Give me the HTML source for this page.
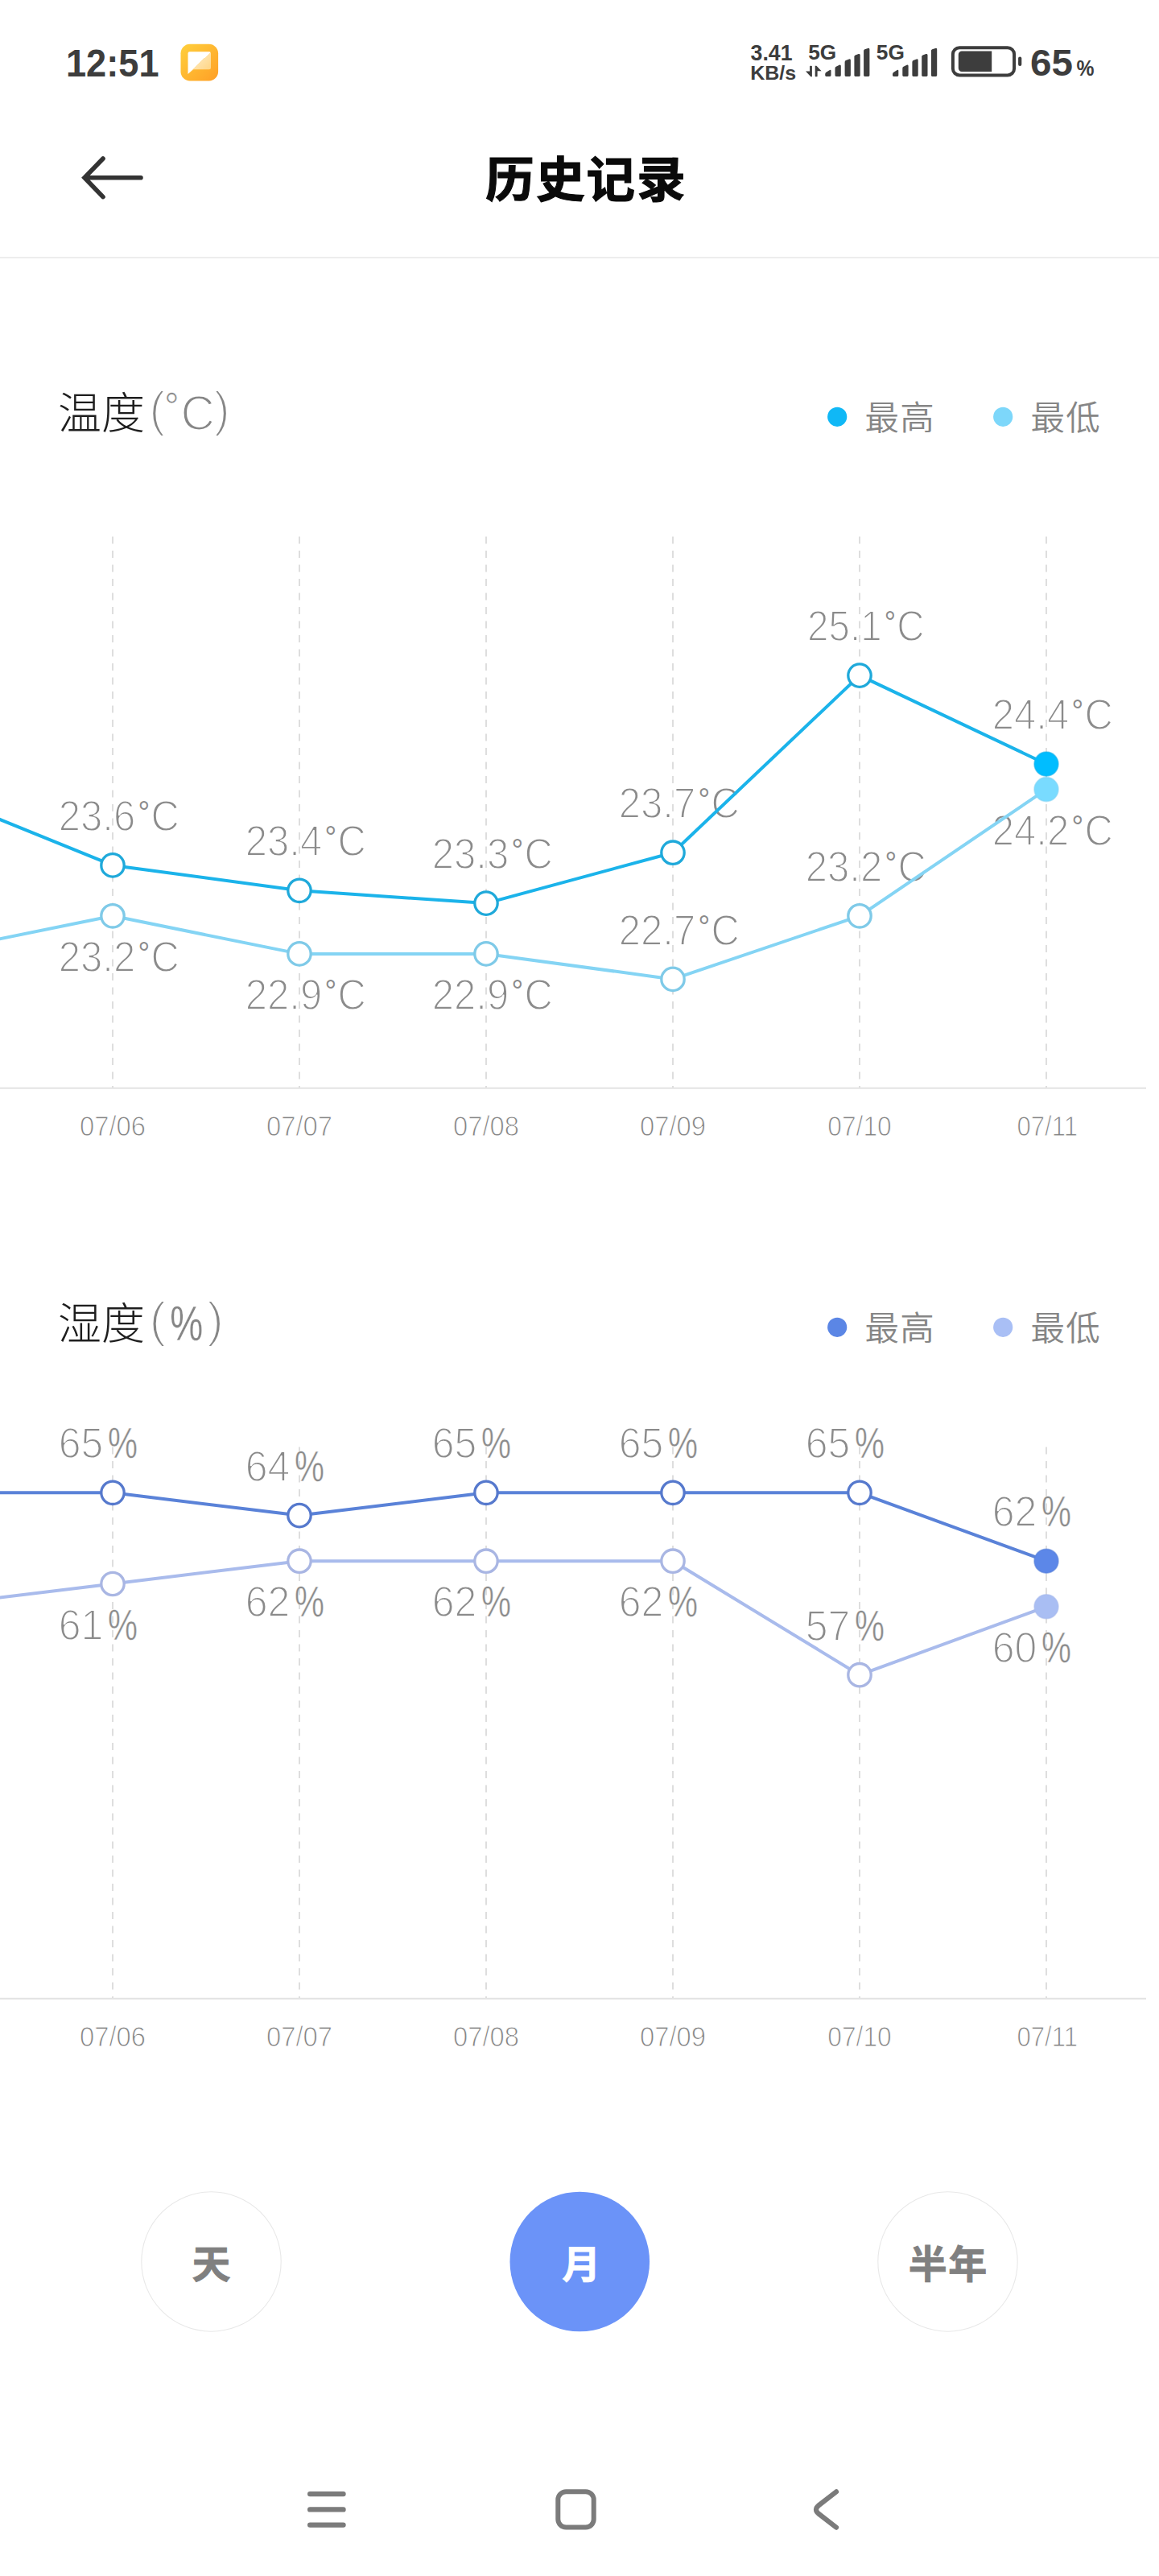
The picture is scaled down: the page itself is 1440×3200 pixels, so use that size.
<!DOCTYPE html>
<html lang="zh-CN">
<head>
<meta charset="utf-8">
<title>历史记录</title>
<style>
html,body{margin:0;padding:0;background:#fff;}
body{width:1440px;height:3200px;overflow:hidden;position:relative;}
svg{position:absolute;left:0;top:0;display:block;}
text{font-family:"Liberation Sans","Noto Sans CJK SC",sans-serif;}
.vl{font-size:53.6px;fill:#8b8b8b;stroke:#fff;stroke-width:1.8px;}
.vl .pc{stroke-width:0.5px;}
.vl .dg{stroke:none;font-size:40px;}
.dl{font-size:35.2px;fill:#828282;stroke:#fff;stroke-width:1.0px;}
.lg{font-size:42.5px;font-weight:350;fill:#868686;letter-spacing:1.1px;}
.ttl{font-size:54px;font-weight:300;fill:#1e1e1e;}
.un{font-size:62px;fill:#868686;stroke:#fff;stroke-width:2.2px;}
.un .dg2{font-size:48px;stroke-width:0.6px;}
.un .pc2{stroke-width:0.3px;}
.btn{font-size:48px;font-weight:700;text-anchor:middle;stroke-width:0.8px;}
.st{fill:#3d3d3d;font-weight:700;}
</style>
</head>
<body>
<svg width="1440" height="3200" viewBox="0 0 1440 3200">
<defs>
<linearGradient id="og" x1="0" y1="0" x2="1" y2="1"><stop offset="0" stop-color="#ffd03c"/><stop offset="1" stop-color="#ff9f26"/></linearGradient>
<linearGradient id="wg" x1="0" y1="0" x2="1" y2="1"><stop offset="0" stop-color="#fff"/><stop offset="0.5" stop-color="#fff"/><stop offset="0.5" stop-color="#ffe2a8"/><stop offset="1" stop-color="#ffd27c"/></linearGradient>
</defs>
<rect width="1440" height="3200" fill="#fff"/>

<g id="statusbar">
<text class="st" x="82" y="94.8" font-size="47.6" textLength="115.5" lengthAdjust="spacingAndGlyphs" fill="#404040">12:51</text>
<rect x="224.5" y="54.8" width="46.6" height="45.6" rx="11.5" fill="url(#og)"/>
<path d="M235.5 64.2 H260 a2 2 0 0 1 2 2 V84.3 a2 2 0 0 1 -2 2 H240.5 L233.5 92 V66.2 a2 2 0 0 1 2 -2 Z" fill="url(#wg)"/>
<text class="st" x="932.6" y="75" font-size="27.3" textLength="52" lengthAdjust="spacingAndGlyphs">3.41</text>
<text class="st" x="932.2" y="98.8" font-size="24.6" textLength="57" lengthAdjust="spacingAndGlyphs">KB/s</text>
<text class="st" x="1004.2" y="73.9" font-size="25.2" textLength="35" lengthAdjust="spacingAndGlyphs">5G</text>
<path d="M1001 88.6 H1006.1 V82.6 Q1006.1 81.7 1007 81.7 H1008 Q1008.9 81.7 1008.9 82.6 V95.3 H1007.3 Z" fill="#3d3d3d"/>
<path d="M1020.6 88.3 H1015.6 V94.4 Q1015.6 95.3 1014.7 95.3 H1013.6 Q1012.7 95.3 1012.7 94.4 V81.7 H1014.4 Z" fill="#3d3d3d"/>
<path d="M1025.2 93.6 V92.2 Q1025.2 90.6 1026.5 89.8 L1030.5 87.2 Q1032.5 85.9 1032.5 88.1 V93.6 Q1032.5 94.9 1031.2 94.9 H1026.5 Q1025.2 94.9 1025.2 93.6 Z" fill="#3d3d3d"/>
<path d="M1037.5 93.6 V84.9 Q1037.5 83.3 1038.8 82.7 L1042.8 80.8 Q1044.8 79.9 1044.8 82.1 V93.6 Q1044.8 94.9 1043.5 94.9 H1038.8 Q1037.5 94.9 1037.5 93.6 Z" fill="#3d3d3d"/>
<path d="M1049.6 93.6 V77.2 Q1049.6 75.6 1050.9 75.1 L1054.9 73.5 Q1056.9 72.7 1056.9 74.9 V93.6 Q1056.9 94.9 1055.6 94.9 H1050.9 Q1049.6 94.9 1049.6 93.6 Z" fill="#3d3d3d"/>
<path d="M1061.4 93.6 V70.6 Q1061.4 69.0 1062.7 68.5 L1066.7 67.1 Q1068.7 66.4 1068.7 68.6 V93.6 Q1068.7 94.9 1067.4 94.9 H1062.7 Q1061.4 94.9 1061.4 93.6 Z" fill="#3d3d3d"/>
<path d="M1073.1 93.6 V63.3 Q1073.1 61.7 1074.4 61.3 L1078.4 60.0 Q1080.4 59.3 1080.4 61.5 V93.6 Q1080.4 94.9 1079.1 94.9 H1074.4 Q1073.1 94.9 1073.1 93.6 Z" fill="#3d3d3d"/>
<text class="st" x="1088.8" y="73.9" font-size="25.2" textLength="35" lengthAdjust="spacingAndGlyphs">5G</text>
<path d="M1109.0 93.6 V92.2 Q1109.0 90.6 1110.3 89.8 L1114.3 87.2 Q1116.3 85.9 1116.3 88.1 V93.6 Q1116.3 94.9 1115.0 94.9 H1110.3 Q1109.0 94.9 1109.0 93.6 Z" fill="#3d3d3d"/>
<path d="M1121.3 93.6 V84.9 Q1121.3 83.3 1122.6 82.7 L1126.6 80.8 Q1128.6 79.9 1128.6 82.1 V93.6 Q1128.6 94.9 1127.3 94.9 H1122.6 Q1121.3 94.9 1121.3 93.6 Z" fill="#3d3d3d"/>
<path d="M1133.4 93.6 V77.2 Q1133.4 75.6 1134.7 75.1 L1138.7 73.5 Q1140.7 72.7 1140.7 74.9 V93.6 Q1140.7 94.9 1139.4 94.9 H1134.7 Q1133.4 94.9 1133.4 93.6 Z" fill="#3d3d3d"/>
<path d="M1145.2 93.6 V70.6 Q1145.2 69.0 1146.5 68.5 L1150.5 67.1 Q1152.5 66.4 1152.5 68.6 V93.6 Q1152.5 94.9 1151.2 94.9 H1146.5 Q1145.2 94.9 1145.2 93.6 Z" fill="#3d3d3d"/>
<path d="M1156.9 93.6 V63.3 Q1156.9 61.7 1158.2 61.3 L1162.2 60.0 Q1164.2 59.3 1164.2 61.5 V93.6 Q1164.2 94.9 1162.9 94.9 H1158.2 Q1156.9 94.9 1156.9 93.6 Z" fill="#3d3d3d"/>
<rect x="1183.9" y="59.2" width="76.2" height="34.2" rx="8.2" fill="none" stroke="#3d3d3d" stroke-width="4"/>
<path d="M1195 63.6 H1232.2 V88.9 H1195 a4.2 4.2 0 0 1 -4.2 -4.2 V67.8 a4.2 4.2 0 0 1 4.2 -4.2 Z" fill="#3d3d3d"/>
<rect x="1265.1" y="70.4" width="4.2" height="11.6" rx="2" fill="#3d3d3d"/>
<text class="st" x="1280" y="94.4" font-size="46.8" textLength="53" lengthAdjust="spacingAndGlyphs">65</text>
<text class="st" x="1337.5" y="94.4" font-size="27.2" textLength="22" lengthAdjust="spacingAndGlyphs">%</text>
</g>
<path d="M128 197 L105 220.8 L128 244.6 M106.5 220.8 H175" fill="none" stroke="#333" stroke-width="5.6" stroke-linecap="round" stroke-linejoin="miter"/>
<text x="728.6" y="245.3" font-size="60.5" font-weight="700" fill="#0a0a0a" stroke="#0a0a0a" stroke-width="1.2" letter-spacing="2.2" text-anchor="middle">历史记录</text>
<rect x="0" y="319" width="1440" height="2" fill="#ededed"/>
<text class="ttl" x="72" y="532.6">温度</text>
<text class="un" x="185.6" y="534.4" textLength="100" lengthAdjust="spacingAndGlyphs"><tspan dy="-5.5">(</tspan><tspan class="dg2" dx="-1" dy="-8">°</tspan><tspan dx="2" dy="13.5">C</tspan><tspan dx="-1" dy="-5.5">)</tspan></text>
<circle cx="1040.2" cy="517.8" r="12.1" fill="#10b8f6"/>
<text class="lg" x="1074.6" y="534">最高</text>
<circle cx="1246.2" cy="517.8" r="12.1" fill="#7dd7fa"/>
<text class="lg" x="1280.6" y="534">最低</text>
<line x1="140" y1="666.5" x2="140" y2="1351.7" stroke="#d6d6d6" stroke-width="1.6" stroke-dasharray="9 8.5"/>
<line x1="372" y1="666.5" x2="372" y2="1351.7" stroke="#d6d6d6" stroke-width="1.6" stroke-dasharray="9 8.5"/>
<line x1="604" y1="666.5" x2="604" y2="1351.7" stroke="#d6d6d6" stroke-width="1.6" stroke-dasharray="9 8.5"/>
<line x1="836" y1="666.5" x2="836" y2="1351.7" stroke="#d6d6d6" stroke-width="1.6" stroke-dasharray="9 8.5"/>
<line x1="1068" y1="666.5" x2="1068" y2="1351.7" stroke="#d6d6d6" stroke-width="1.6" stroke-dasharray="9 8.5"/>
<line x1="1300" y1="666.5" x2="1300" y2="1351.7" stroke="#d6d6d6" stroke-width="1.6" stroke-dasharray="9 8.5"/>
<line x1="0" y1="1351.7" x2="1424" y2="1351.7" stroke="#e3e3e3" stroke-width="2"/>
<text class="vl" x="72.8" y="1032.0" textLength="150.0" lengthAdjust="spacingAndGlyphs">23.6<tspan class="dg" dx="3.5" dy="-9">°</tspan><tspan dx="1.5" dy="9">C</tspan></text>
<text class="vl" x="72.8" y="1207.0" textLength="150.0" lengthAdjust="spacingAndGlyphs">23.2<tspan class="dg" dx="3.5" dy="-9">°</tspan><tspan dx="1.5" dy="9">C</tspan></text>
<text class="vl" x="304.8" y="1063.4" textLength="150.0" lengthAdjust="spacingAndGlyphs">23.4<tspan class="dg" dx="3.5" dy="-9">°</tspan><tspan dx="1.5" dy="9">C</tspan></text>
<text class="vl" x="304.8" y="1254.1" textLength="150.0" lengthAdjust="spacingAndGlyphs">22.9<tspan class="dg" dx="3.5" dy="-9">°</tspan><tspan dx="1.5" dy="9">C</tspan></text>
<text class="vl" x="536.8" y="1079.2" textLength="150.0" lengthAdjust="spacingAndGlyphs">23.3<tspan class="dg" dx="3.5" dy="-9">°</tspan><tspan dx="1.5" dy="9">C</tspan></text>
<text class="vl" x="536.8" y="1254.1" textLength="150.0" lengthAdjust="spacingAndGlyphs">22.9<tspan class="dg" dx="3.5" dy="-9">°</tspan><tspan dx="1.5" dy="9">C</tspan></text>
<text class="vl" x="768.8" y="1016.3" textLength="150.0" lengthAdjust="spacingAndGlyphs">23.7<tspan class="dg" dx="3.5" dy="-9">°</tspan><tspan dx="1.5" dy="9">C</tspan></text>
<text class="vl" x="768.8" y="1173.5" textLength="150.0" lengthAdjust="spacingAndGlyphs">22.7<tspan class="dg" dx="3.5" dy="-9">°</tspan><tspan dx="1.5" dy="9">C</tspan></text>
<text class="vl" x="1003.1" y="796.2" textLength="145.4" lengthAdjust="spacingAndGlyphs">25.1<tspan class="dg" dx="3.5" dy="-9">°</tspan><tspan dx="1.5" dy="9">C</tspan></text>
<text class="vl" x="1000.8" y="1094.9" textLength="150.0" lengthAdjust="spacingAndGlyphs">23.2<tspan class="dg" dx="3.5" dy="-9">°</tspan><tspan dx="1.5" dy="9">C</tspan></text>
<text class="vl" x="1232.8" y="906.2" textLength="150.0" lengthAdjust="spacingAndGlyphs">24.4<tspan class="dg" dx="3.5" dy="-9">°</tspan><tspan dx="1.5" dy="9">C</tspan></text>
<text class="vl" x="1232.8" y="1049.8" textLength="150.0" lengthAdjust="spacingAndGlyphs">24.2<tspan class="dg" dx="3.5" dy="-9">°</tspan><tspan dx="1.5" dy="9">C</tspan></text>
<polyline points="-92,1184.9 140,1137.8 372,1184.9 604,1184.9 836,1216.4 1068,1137.8 1300,980.6" fill="none" stroke="#84d4f4" stroke-width="4" stroke-linejoin="round"/>
<polyline points="-92,980.6 140,1074.9 372,1106.3 604,1122.1 836,1059.2 1068,839.1 1300,949.1" fill="none" stroke="#1bb3ea" stroke-width="4" stroke-linejoin="round"/>
<circle cx="140" cy="1137.8" r="14.2" fill="#fff" stroke="#7fcae8" stroke-width="3.3"/>
<circle cx="372" cy="1184.9" r="14.2" fill="#fff" stroke="#7fcae8" stroke-width="3.3"/>
<circle cx="604" cy="1184.9" r="14.2" fill="#fff" stroke="#7fcae8" stroke-width="3.3"/>
<circle cx="836" cy="1216.4" r="14.2" fill="#fff" stroke="#7fcae8" stroke-width="3.3"/>
<circle cx="1068" cy="1137.8" r="14.2" fill="#fff" stroke="#7fcae8" stroke-width="3.3"/>
<circle cx="1300" cy="980.6" r="15" fill="#79dbff" stroke="#84d4f4" stroke-opacity="0.55" stroke-width="1.6"/>
<circle cx="140" cy="1074.9" r="14.2" fill="#fff" stroke="#1fa9da" stroke-width="3.3"/>
<circle cx="372" cy="1106.3" r="14.2" fill="#fff" stroke="#1fa9da" stroke-width="3.3"/>
<circle cx="604" cy="1122.1" r="14.2" fill="#fff" stroke="#1fa9da" stroke-width="3.3"/>
<circle cx="836" cy="1059.2" r="14.2" fill="#fff" stroke="#1fa9da" stroke-width="3.3"/>
<circle cx="1068" cy="839.1" r="14.2" fill="#fff" stroke="#1fa9da" stroke-width="3.3"/>
<circle cx="1300" cy="949.1" r="15" fill="#00bdff" stroke="#1bb3ea" stroke-opacity="0.55" stroke-width="1.6"/>
<text class="dl" x="140" y="1410.9" text-anchor="middle" textLength="82" lengthAdjust="spacingAndGlyphs">07/06</text>
<text class="dl" x="372" y="1410.9" text-anchor="middle" textLength="82" lengthAdjust="spacingAndGlyphs">07/07</text>
<text class="dl" x="604" y="1410.9" text-anchor="middle" textLength="82" lengthAdjust="spacingAndGlyphs">07/08</text>
<text class="dl" x="836" y="1410.9" text-anchor="middle" textLength="82" lengthAdjust="spacingAndGlyphs">07/09</text>
<text class="dl" x="1068" y="1410.9" text-anchor="middle" textLength="79.5" lengthAdjust="spacingAndGlyphs">07/10</text>
<text class="dl" x="1301.2" y="1410.9" text-anchor="middle" textLength="75.5" lengthAdjust="spacingAndGlyphs">07/11</text>
<text class="ttl" x="72" y="1663.6">湿度</text>
<text class="un" x="185.6" y="1665.4"><tspan dy="-5.5">(</tspan><tspan class="pc2" dx="5" dy="5.5" textLength="41" lengthAdjust="spacingAndGlyphs">%</tspan><tspan dx="5" dy="-5.5">)</tspan></text>
<circle cx="1040.2" cy="1648.8" r="12.1" fill="#5b86e5"/>
<text class="lg" x="1074.6" y="1665">最高</text>
<circle cx="1246.2" cy="1648.8" r="12.1" fill="#a9bff5"/>
<text class="lg" x="1280.6" y="1665">最低</text>
<line x1="140" y1="1797.5" x2="140" y2="2482.7" stroke="#d6d6d6" stroke-width="1.6" stroke-dasharray="9 8.5"/>
<line x1="372" y1="1797.5" x2="372" y2="2482.7" stroke="#d6d6d6" stroke-width="1.6" stroke-dasharray="9 8.5"/>
<line x1="604" y1="1797.5" x2="604" y2="2482.7" stroke="#d6d6d6" stroke-width="1.6" stroke-dasharray="9 8.5"/>
<line x1="836" y1="1797.5" x2="836" y2="2482.7" stroke="#d6d6d6" stroke-width="1.6" stroke-dasharray="9 8.5"/>
<line x1="1068" y1="1797.5" x2="1068" y2="2482.7" stroke="#d6d6d6" stroke-width="1.6" stroke-dasharray="9 8.5"/>
<line x1="1300" y1="1797.5" x2="1300" y2="2482.7" stroke="#d6d6d6" stroke-width="1.6" stroke-dasharray="9 8.5"/>
<line x1="0" y1="2482.7" x2="1424" y2="2482.7" stroke="#e3e3e3" stroke-width="2"/>
<text class="vl" x="72.8" y="1811.4"><tspan textLength="55.6" lengthAdjust="spacingAndGlyphs">65</tspan><tspan class="pc" dx="5.5" textLength="37" lengthAdjust="spacingAndGlyphs">%</tspan></text>
<text class="vl" x="72.8" y="2036.7"><tspan textLength="55.6" lengthAdjust="spacingAndGlyphs">61</tspan><tspan class="pc" dx="5.5" textLength="37" lengthAdjust="spacingAndGlyphs">%</tspan></text>
<text class="vl" x="304.8" y="1839.7"><tspan textLength="55.6" lengthAdjust="spacingAndGlyphs">64</tspan><tspan class="pc" dx="5.5" textLength="37" lengthAdjust="spacingAndGlyphs">%</tspan></text>
<text class="vl" x="304.8" y="2008.4"><tspan textLength="55.6" lengthAdjust="spacingAndGlyphs">62</tspan><tspan class="pc" dx="5.5" textLength="37" lengthAdjust="spacingAndGlyphs">%</tspan></text>
<text class="vl" x="536.8" y="1811.4"><tspan textLength="55.6" lengthAdjust="spacingAndGlyphs">65</tspan><tspan class="pc" dx="5.5" textLength="37" lengthAdjust="spacingAndGlyphs">%</tspan></text>
<text class="vl" x="536.8" y="2008.4"><tspan textLength="55.6" lengthAdjust="spacingAndGlyphs">62</tspan><tspan class="pc" dx="5.5" textLength="37" lengthAdjust="spacingAndGlyphs">%</tspan></text>
<text class="vl" x="768.8" y="1811.4"><tspan textLength="55.6" lengthAdjust="spacingAndGlyphs">65</tspan><tspan class="pc" dx="5.5" textLength="37" lengthAdjust="spacingAndGlyphs">%</tspan></text>
<text class="vl" x="768.8" y="2008.4"><tspan textLength="55.6" lengthAdjust="spacingAndGlyphs">62</tspan><tspan class="pc" dx="5.5" textLength="37" lengthAdjust="spacingAndGlyphs">%</tspan></text>
<text class="vl" x="1000.8" y="1811.4"><tspan textLength="55.6" lengthAdjust="spacingAndGlyphs">65</tspan><tspan class="pc" dx="5.5" textLength="37" lengthAdjust="spacingAndGlyphs">%</tspan></text>
<text class="vl" x="1000.8" y="2037.8"><tspan textLength="55.6" lengthAdjust="spacingAndGlyphs">57</tspan><tspan class="pc" dx="5.5" textLength="37" lengthAdjust="spacingAndGlyphs">%</tspan></text>
<text class="vl" x="1232.8" y="1896.3"><tspan textLength="55.6" lengthAdjust="spacingAndGlyphs">62</tspan><tspan class="pc" dx="5.5" textLength="37" lengthAdjust="spacingAndGlyphs">%</tspan></text>
<text class="vl" x="1232.8" y="2065.0"><tspan textLength="55.6" lengthAdjust="spacingAndGlyphs">60</tspan><tspan class="pc" dx="5.5" textLength="37" lengthAdjust="spacingAndGlyphs">%</tspan></text>
<polyline points="-92,1995.8 140,1967.5 372,1939.2 604,1939.2 836,1939.2 1068,2080.7 1300,1995.8" fill="none" stroke="#a9bbec" stroke-width="4" stroke-linejoin="round"/>
<polyline points="-92,1854.3 140,1854.3 372,1882.6 604,1854.3 836,1854.3 1068,1854.3 1300,1939.2" fill="none" stroke="#5a82d8" stroke-width="4" stroke-linejoin="round"/>
<circle cx="140" cy="1967.5" r="14.2" fill="#fff" stroke="#a9b6e3" stroke-width="3.3"/>
<circle cx="372" cy="1939.2" r="14.2" fill="#fff" stroke="#a9b6e3" stroke-width="3.3"/>
<circle cx="604" cy="1939.2" r="14.2" fill="#fff" stroke="#a9b6e3" stroke-width="3.3"/>
<circle cx="836" cy="1939.2" r="14.2" fill="#fff" stroke="#a9b6e3" stroke-width="3.3"/>
<circle cx="1068" cy="2080.7" r="14.2" fill="#fff" stroke="#a9b6e3" stroke-width="3.3"/>
<circle cx="1300" cy="1995.8" r="15" fill="#a9bef3" stroke="#a9bbec" stroke-opacity="0.55" stroke-width="1.6"/>
<circle cx="140" cy="1854.3" r="14.2" fill="#fff" stroke="#5679cd" stroke-width="3.3"/>
<circle cx="372" cy="1882.6" r="14.2" fill="#fff" stroke="#5679cd" stroke-width="3.3"/>
<circle cx="604" cy="1854.3" r="14.2" fill="#fff" stroke="#5679cd" stroke-width="3.3"/>
<circle cx="836" cy="1854.3" r="14.2" fill="#fff" stroke="#5679cd" stroke-width="3.3"/>
<circle cx="1068" cy="1854.3" r="14.2" fill="#fff" stroke="#5679cd" stroke-width="3.3"/>
<circle cx="1300" cy="1939.2" r="15" fill="#5c87e8" stroke="#5a82d8" stroke-opacity="0.55" stroke-width="1.6"/>
<text class="dl" x="140" y="2541.9" text-anchor="middle" textLength="82" lengthAdjust="spacingAndGlyphs">07/06</text>
<text class="dl" x="372" y="2541.9" text-anchor="middle" textLength="82" lengthAdjust="spacingAndGlyphs">07/07</text>
<text class="dl" x="604" y="2541.9" text-anchor="middle" textLength="82" lengthAdjust="spacingAndGlyphs">07/08</text>
<text class="dl" x="836" y="2541.9" text-anchor="middle" textLength="82" lengthAdjust="spacingAndGlyphs">07/09</text>
<text class="dl" x="1068" y="2541.9" text-anchor="middle" textLength="79.5" lengthAdjust="spacingAndGlyphs">07/10</text>
<text class="dl" x="1301.2" y="2541.9" text-anchor="middle" textLength="75.5" lengthAdjust="spacingAndGlyphs">07/11</text>
<circle cx="262.5" cy="2809.5" r="86.7" fill="#fff" stroke="#e8e8e8" stroke-width="1.1"/>
<text class="btn" x="262.5" y="2830" fill="#808080" stroke="#808080">天</text>
<circle cx="720.3" cy="2809.5" r="86.8" fill="#6b93f8"/>
<text class="btn" x="722.3" y="2830" fill="#fff" stroke="#fff">月</text>
<circle cx="1177.5" cy="2809.5" r="86.7" fill="#fff" stroke="#e8e8e8" stroke-width="1.1"/>
<text class="btn" x="1178.2" y="2830" fill="#808080" stroke="#808080" letter-spacing="1.5">半年</text>
<g fill="none" stroke="#7b7b7b" stroke-width="6.4" stroke-linecap="round" stroke-linejoin="round">
<path d="M385.2 3098.1 H426.5 M385.2 3117.4 H426.5 M385.2 3136.6 H426.5"/>
<rect x="693.3" y="3095.2" width="44.4" height="44.4" rx="10" stroke-width="6"/>
<path d="M1039 3095.4 L1017.5 3112 Q1010.5 3117.5 1017.5 3123 L1039 3139.6" stroke-width="6.2"/>
</g>
</svg>
</body>
</html>
